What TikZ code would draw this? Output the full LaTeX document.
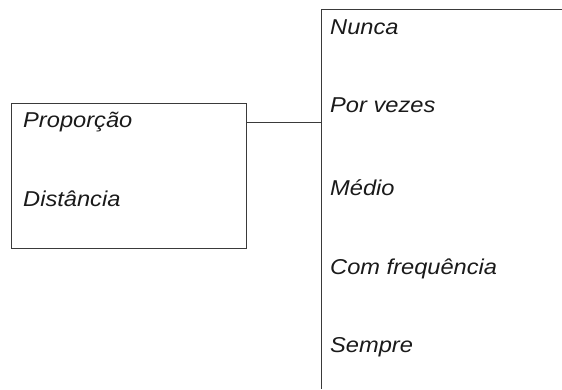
\documentclass[tikz,border=0pt]{standalone}
\usepackage{fontspec}
\setmainfont{Liberation Sans}[FakeStretch=1.1]
\definecolor{linegray}{HTML}{3A3A3A}
\definecolor{textgray}{HTML}{1A1A1A}
\tikzset{
  lbl/.style={anchor=base west, inner sep=0pt, text=textgray,
    font=\fontsize{21.5}{25}\selectfont\itshape},
  frame/.style={draw=linegray, line width=0.9pt}
}
\begin{document}
\begin{tikzpicture}[x=1pt,y=-1pt]
\useasboundingbox (0,0) rectangle (562,389);

% ===== Left box =====
\node[frame, rectangle, minimum width=235pt, minimum height=145pt, inner sep=0pt,
  anchor=north west] (box) at (11,103) {};
\node[lbl] (prop) at (23,127) {Proporção};
\node[lbl] (dist) at (23,206) {Distância};

% ===== Right scale (open frame) =====
\coordinate (topL) at (321,9);
\coordinate (topR) at (562,9);
\coordinate (botL) at (321,389);
\draw[frame] (topR) -- (topL) -- (botL);

\node[lbl] (nunca) at (330,34) {Nunca};
\node[lbl] (vezes) at (330,112) {Por vezes};
\node[lbl] (medio) at (330,195) {Médio};
\node[lbl] (freq) at (330,274) {Com frequência};
\node[lbl] (sempre) at (330,352) {Sempre};

% ===== Connector =====
\coordinate (joint) at (321,122);
\draw[frame] (box.east |- joint) -- (joint);

\end{tikzpicture}
\end{document}
